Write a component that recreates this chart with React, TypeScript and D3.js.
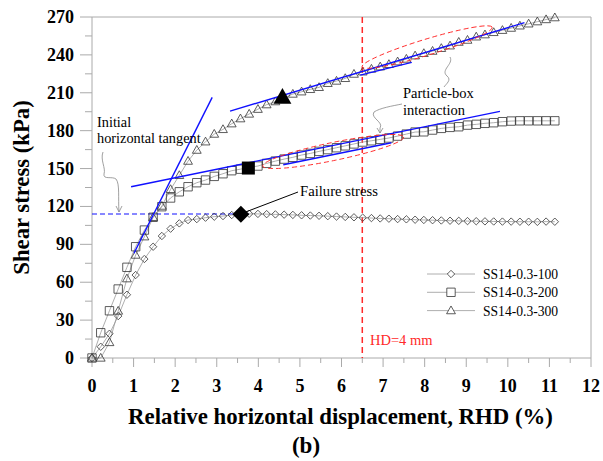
import React from 'react';
import * as d3 from 'd3';

const RHD = [0, 0.21, 0.42, 0.63, 0.84, 1.05, 1.26, 1.47, 1.68, 1.89, 2.1, 2.31, 2.52, 2.73, 2.94, 3.15, 3.36, 3.57, 3.78, 3.99, 4.2, 4.41, 4.62, 4.83, 5.04, 5.25, 5.46, 5.67, 5.88, 6.09, 6.3, 6.51, 6.72, 6.93, 7.14, 7.35, 7.56, 7.77, 7.98, 8.19, 8.4, 8.61, 8.82, 9.03, 9.24, 9.45, 9.66, 9.87, 10.08, 10.29, 10.5, 10.71, 10.92, 11.13];

const S100 = [0, 8.9, 19.2, 33.2, 50.1, 65.7, 78.4, 88.1, 96.6, 102.4, 106.6, 109.2, 110, 111.1, 111.9, 112.4, 113.2, 113.8, 114.2, 114.1, 113.9, 113.7, 113.5, 113.3, 113, 112.8, 112.6, 112.3, 112, 111.7, 111.4, 111.1, 110.8, 110.5, 110.3, 110, 109.8, 109.5, 109.3, 109.1, 108.9, 108.7, 108.6, 108.4, 108.3, 108.2, 108.1, 108, 108, 107.9, 107.9, 107.8, 108, 107.9];
const S200 = [0, 20, 37.4, 54.6, 71.8, 88.1, 101.3, 111.4, 119.8, 126.7, 131.6, 135.6, 138.8, 140.9, 143.8, 145.9, 148.3, 149.5, 151, 152, 154.1, 155.9, 157.5, 158.9, 160.7, 162, 163.6, 165, 166.5, 168, 169.5, 171, 172, 173.1, 174.2, 175.7, 177.3, 178.9, 179.1, 180.5, 181.8, 182.6, 183.1, 184.4, 185, 185.8, 186.3, 187.1, 187.6, 187.8, 187.8, 187.8, 187.8, 187.8];
const S300 = [0, 0, 12.3, 37.2, 62.8, 81.5, 96, 111.4, 120.3, 133.5, 144.6, 155.9, 164.6, 171.2, 177.3, 181, 185.5, 189.5, 193.2, 197, 200.6, 203, 206, 209, 210.8, 212.7, 214.3, 217.5, 219.3, 221.4, 224.8, 226.6, 228.8, 230.6, 232.5, 234.6, 236.7, 239.3, 241.2, 243, 245.2, 247.2, 250.1, 251.7, 254.3, 256, 257.8, 259.5, 261.2, 263, 264.6, 266.3, 268, 269.5];

const SERIES_NAMES = ['SS14-0.3-100', 'SS14-0.3-200', 'SS14-0.3-300'];
const SERIES_SHAPES = ['diamond', 'square', 'triangle'];

// failure (highlighted) points
const FAIL_X = [3.58, 3.76, 4.58];
const FAIL_Y = [113.8, 150.4, 206.4];

// tangent lines [x1, y1, x2, y2]
const TANGENTS = [
  [1.01, 82.9, 2.89, 206.4],
  [0.94, 135.6, 9.81, 195.3],
  [3.32, 195.5, 10.4, 265.5],
  [6.45, 224, 7.69, 234.1],
  [4.6, 153, 7.2, 170.4],
];

const X_TICKS = [0, 1, 2, 3, 4, 5, 6, 7, 8, 9, 10, 11, 12];
const Y_TICKS = [0, 30, 60, 90, 120, 150, 180, 210, 240, 270];

const FAILURE_STRESS = 114;
const HD_LINE = 6.5;

const W = 603;
const H = 461;
const serif = "'Liberation Serif', 'Times New Roman', Times, serif";

function marker(shape: string, cx: number, cy: number, s: number) {
  if (shape === 'diamond') {
    return `M${cx},${cy - s}L${cx + s},${cy}L${cx},${cy + s}L${cx - s},${cy}Z`;
  }
  if (shape === 'square') {
    return `M${cx - s},${cy - s}H${cx + s}V${cy + s}H${cx - s}Z`;
  }
  return `M${cx},${cy - s * 1.1}L${cx + s * 1.05},${cy + s * 0.75}L${cx - s * 1.05},${cy + s * 0.75}Z`;
}

export default function App() {
  const x = d3.scaleLinear().domain([0, 12]).range([92, 591]);
  const y = d3.scaleLinear().domain([0, 270]).range([358, 17]);
  const series = [S100, S200, S300];
  const line = d3.line<number>().x((_, i) => x(RHD[i])).y((d) => y(d));
  const minorX = d3.range(0, 12.01, 0.5);
  const minorY = d3.range(0, 271, 15);
  const sizes = [3.7, 4.2, 4.2];
  const bigSizes = [8.5, 6.5, 8.5];
  const blue = '#1010ff';
  const red = '#ff2a2a';

  const angT = (Math.atan2(y(254.3) - y(224.8), x(9.24) - x(6.3)) * 180) / Math.PI;
  const angS = (Math.atan2(y(178.9) - y(158.9), x(7.77) - x(4.83)) * 180) / Math.PI;

  return (
    <svg width={W} height={H} style={{ position: 'absolute', left: 0, top: 0, background: '#fff', fontFamily: serif }}>
      {/* frame */}
      <line x1={x(0)} x2={x(12)} y1={y(270)} y2={y(270)} stroke="#aaa" />
      <line x1={x(12)} x2={x(12)} y1={y(270)} y2={y(0)} stroke="#aaa" />
      <line x1={x(0)} x2={x(0)} y1={y(270)} y2={y(0)} stroke="#aaa" />
      <line x1={x(0)} x2={x(12)} y1={y(0)} y2={y(0)} stroke="#aaa" />
      {minorX.map((v) => (
        <line key={'mx' + v} x1={x(v)} x2={x(v)} y1={y(0)} y2={y(0) + (v % 1 === 0 ? 9 : 5)} stroke="#aaa" />
      ))}
      {minorY.map((v) => (
        <line key={'my' + v} x1={x(0) - (v % 30 === 0 ? 12 : 7)} x2={x(0)} y1={y(v)} y2={y(v)} stroke="#aaa" />
      ))}
      {X_TICKS.map((v) => (
        <text key={'xt' + v} x={x(v)} y={392} textAnchor="middle" fontSize={18} fontWeight="bold">{v}</text>
      ))}
      {Y_TICKS.map((v) => (
        <text key={'yt' + v} x={74} y={y(v) + 6} textAnchor="end" fontSize={18} fontWeight="bold">{v}</text>
      ))}
      <text x={340.5} y={424} textAnchor="middle" fontSize={22.8} fontWeight="bold">Relative horizontal displacement, RHD (%)</text>
      <text x={306} y={453} textAnchor="middle" fontSize={23} fontWeight="bold">(b)</text>
      <text transform={`translate(29,187.5) rotate(-90)`} textAnchor="middle" fontSize={22.7} fontWeight="bold">Shear stress (kPa)</text>

      {/* HD line */}
      <line x1={x(HD_LINE)} x2={x(HD_LINE)} y1={y(270)} y2={y(0)} stroke={red} strokeWidth={1.5} strokeDasharray="6,4" />
      <text x={370} y={345} fontSize={14.5} fill={red}>HD=4 mm</text>

      {/* failure stress dashed line */}
      <line x1={x(0)} x2={x(3.8)} y1={y(FAILURE_STRESS)} y2={y(FAILURE_STRESS)} stroke={blue} strokeWidth={1.2} strokeDasharray="5,3" />

      {/* series lines */}
      {series.map((s, i) => (
        <path key={'l' + i} d={line(s) || ''} fill="none" stroke="#999" strokeWidth={0.8} />
      ))}
      {/* markers */}
      {series.map((s, i) => (
        <g key={'m' + i}>
          {s.map((v, j) => (
            <path key={j} d={marker(SERIES_SHAPES[i], x(RHD[j]), y(v), sizes[i])} fill="none" stroke="#333" strokeWidth={0.8} />
          ))}
        </g>
      ))}

      {/* tangents */}
      {TANGENTS.map((t, i) => (
        <line key={'t' + i} x1={x(t[0])} y1={y(t[1])} x2={x(t[2])} y2={y(t[3])} stroke={blue} strokeWidth={1.4} />
      ))}

      {/* ellipses */}
      <ellipse cx={x(8.06)} cy={y(246.2)} rx={68} ry={8} transform={`rotate(${angT},${x(8.06)},${y(246.2)})`} fill="none" stroke={red} strokeWidth={0.9} strokeDasharray="5,3" />
      <ellipse cx={x(5.8)} cy={y(163.5)} rx={72} ry={9} transform={`rotate(${angS},${x(5.8)},${y(163.5)})`} fill="none" stroke={red} strokeWidth={0.9} strokeDasharray="5,3" />

      {/* big failure markers */}
      {FAIL_X.map((fx, i) => (
        <path key={'f' + i} d={marker(SERIES_SHAPES[i], x(fx), y(FAIL_Y[i]), bigSizes[i])} fill="#000" />
      ))}

      {/* annotations */}
      <text x={97} y={127} fontSize={14.3}>Initial</text>
      <text x={97} y={143} fontSize={14.3}>horizontal tangent</text>
      <path d="M103,152 C100,160 106,168 104,174 C103,180 112,176 116,179 C120,184 118,198 119,212" fill="none" stroke="#888" strokeWidth={0.8} />
      <path d="M116,206 L119,212 L122,206" fill="none" stroke="#888" strokeWidth={0.8} />

      <line x1={x(FAIL_X[0]) + 4} y1={y(FAIL_Y[0]) - 2} x2={298} y2={192} stroke="#000" strokeWidth={1} />
      <text x={300} y={196} fontSize={14.7}>Failure stress</text>

      <text x={403} y={98} fontSize={14.5}>Particle-box</text>
      <text x={403} y={115} fontSize={14.5}>interaction</text>
      <path d="M450,57 C454,64 440,70 447,76 C452,80 446,84 444,87" fill="none" stroke="#888" strokeWidth={0.8} />
      <path d="M402,104 C392,106 380,108 374,112 C370,118 384,122 380,128 L380,133" fill="none" stroke="#888" strokeWidth={0.8} />
      <path d="M377,128 L380,133 L383,128" fill="none" stroke="#888" strokeWidth={0.8} />

      {/* legend */}
      {SERIES_NAMES.map((n, i) => (
        <g key={'lg' + i}>
          <line x1={427} x2={475} y1={274 + i * 18.3} y2={274 + i * 18.3} stroke="#999" strokeWidth={0.8} />
          <path d={marker(SERIES_SHAPES[i], 451, 274 + i * 18.3, sizes[i])} fill="#fff" stroke="#333" strokeWidth={0.8} />
          <text x={483} y={279 + i * 18.3} fontSize={13.6}>{n}</text>
        </g>
      ))}
    </svg>
  );
}
